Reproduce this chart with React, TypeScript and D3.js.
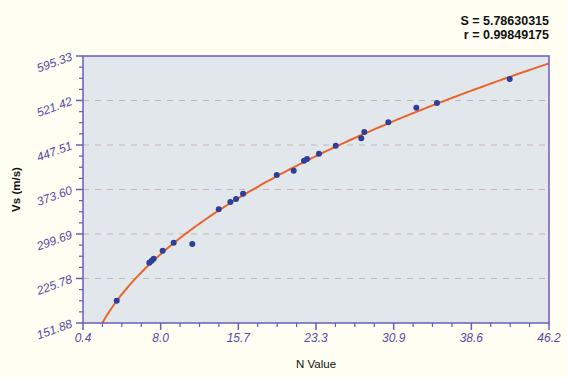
import React from "react";
import * as d3 from "d3";

const nValues = [3.71, 6.92, 7.15, 7.35, 8.23, 9.31, 11.14, 13.74, 14.88, 15.44, 16.13, 19.44, 21.11, 22.12, 22.42, 23.59, 25.24, 27.75, 28.05, 30.41, 33.16, 35.19, 42.34];
const vsValues = [188.9, 252.0, 255.3, 258.6, 271.9, 285.2, 283.0, 340.7, 352.8, 357.8, 366.6, 397.7, 404.8, 421.4, 424.2, 433.1, 446.3, 458.6, 469.1, 485.2, 509.5, 517.3, 557.1];
const xTickLabels = ["0.4", "8.0", "15.7", "23.3", "30.9", "38.6", "46.2"];
const yTickLabels = ["151.88", "225.78", "299.69", "373.60", "447.51", "521.42", "595.33"];
const statLines = ["S = 5.78630315", "r = 0.99849175"];

const W = 567, H = 377;
const L = 83, R = 549, T = 56, B = 323;
const xMin = 0.4, xMax = 46.2, yMin = 151.88, yMax = 595.33;

export default function App() {
  const x = d3.scaleLinear().domain([xMin, xMax]).range([L, R]);
  const y = d3.scaleLinear().domain([yMin, yMax]).range([B, T]);
  const xMajor = xTickLabels.map((_, i) => xMin + (i * (xMax - xMin)) / 6);
  const yMajor = yTickLabels.map((_, i) => yMin + (i * (yMax - yMin)) / 6);
  const xMinor: number[] = [];
  const yMinor: number[] = [];
  for (let i = 0; i < 6; i++) for (let k = 1; k < 4; k++) {
    xMinor.push(xMajor[i] + (k * (xMajor[1] - xMajor[0])) / 4);
    yMinor.push(yMajor[i] + (k * (yMajor[1] - yMajor[0])) / 4);
  }

  // power-law regression on the data (log-log least squares)
  const lx = nValues.map(Math.log), ly = vsValues.map(Math.log);
  const mx = d3.mean(lx)!, my = d3.mean(ly)!;
  const b = d3.sum(lx.map((v, i) => (v - mx) * (ly[i] - my))) / d3.sum(lx.map((v) => (v - mx) ** 2));
  const a = Math.exp(my - b * mx);
  const nStart = Math.pow(yMin / a, 1 / b);
  const curvePts = d3.range(0, 201).map((i) => {
    const n = nStart + (i / 200) * (xMax - nStart);
    return [x(n), y(a * Math.pow(n, b))] as [number, number];
  });
  const line = d3.line().curve(d3.curveLinear)(curvePts) || "";

  const purple = "#6a5cb8";
  const labelColor = "#5a4aa6";
  return (
    <svg width={W} height={H} style={{ position: "absolute", left: 0, top: 0, background: "#fefef2" }} fontFamily="'Liberation Sans', Arial, sans-serif">
      <rect x={0} y={0} width={W} height={H} fill="#fefef2" />
      <defs>
        <clipPath id="plot"><rect x={L} y={T} width={R - L} height={B - T} /></clipPath>
      </defs>
      <rect x={L} y={T} width={R - L} height={B - T} fill="#e2e7ec" />
      {yMajor.slice(1, 6).map((v, i) => (
        <line key={"g" + i} x1={L} x2={R} y1={y(v)} y2={y(v)} stroke="#c9b7ae" strokeWidth={1} strokeDasharray="6,6" />
      ))}
      <path d={line} fill="none" stroke="#e8662c" strokeWidth={2} clipPath="url(#plot)" />
      {nValues.map((n, i) => (
        <circle key={"p" + i} cx={x(n)} cy={y(vsValues[i])} r={3} fill="#2f3f98" />
      ))}
      <rect x={L} y={T} width={R - L} height={B - T} fill="none" stroke={purple} strokeWidth={1.5} />
      {yMajor.map((v, i) => (
        <line key={"ym" + i} x1={L - 7} x2={L} y1={y(v)} y2={y(v)} stroke={purple} strokeWidth={1.5} />
      ))}
      {yMinor.map((v, i) => (
        <line key={"yn" + i} x1={L - 4} x2={L} y1={y(v)} y2={y(v)} stroke={purple} strokeWidth={1.2} />
      ))}
      {xMajor.map((v, i) => (
        <line key={"xm" + i} x1={x(v)} x2={x(v)} y1={B} y2={B + 7} stroke={purple} strokeWidth={1.5} />
      ))}
      {xMinor.map((v, i) => (
        <line key={"xn" + i} x1={x(v)} x2={x(v)} y1={B} y2={B + 4} stroke={purple} strokeWidth={1.2} />
      ))}
      {yMajor.map((v, i) => (
        <text key={"yl" + i} transform={`translate(${L - 10},${y(v) + 4}) rotate(-20)`} textAnchor="end" fontSize={12} fontStyle="italic" fill={labelColor}>
          {yTickLabels[i]}
        </text>
      ))}
      {xMajor.map((v, i) => (
        <text key={"xl" + i} x={x(v)} y={342} textAnchor="middle" fontSize={12} fontStyle="italic" fill={labelColor}>
          {xTickLabels[i]}
        </text>
      ))}
      <text x={(L + R) / 2} y={367.5} textAnchor="middle" fontSize={11.5} fill="#111">N Value</text>
      <text transform={`translate(20,${(T + B) / 2}) rotate(-90)`} textAnchor="middle" fontSize={11.5} fontWeight="bold" fill="#111">Vs (m/s)</text>
      {statLines.map((s, i) => (
        <text key={"s" + i} x={549} y={25 + i * 14} textAnchor="end" fontSize={12.5} fontWeight="bold" fill="#111">{s}</text>
      ))}
    </svg>
  );
}
